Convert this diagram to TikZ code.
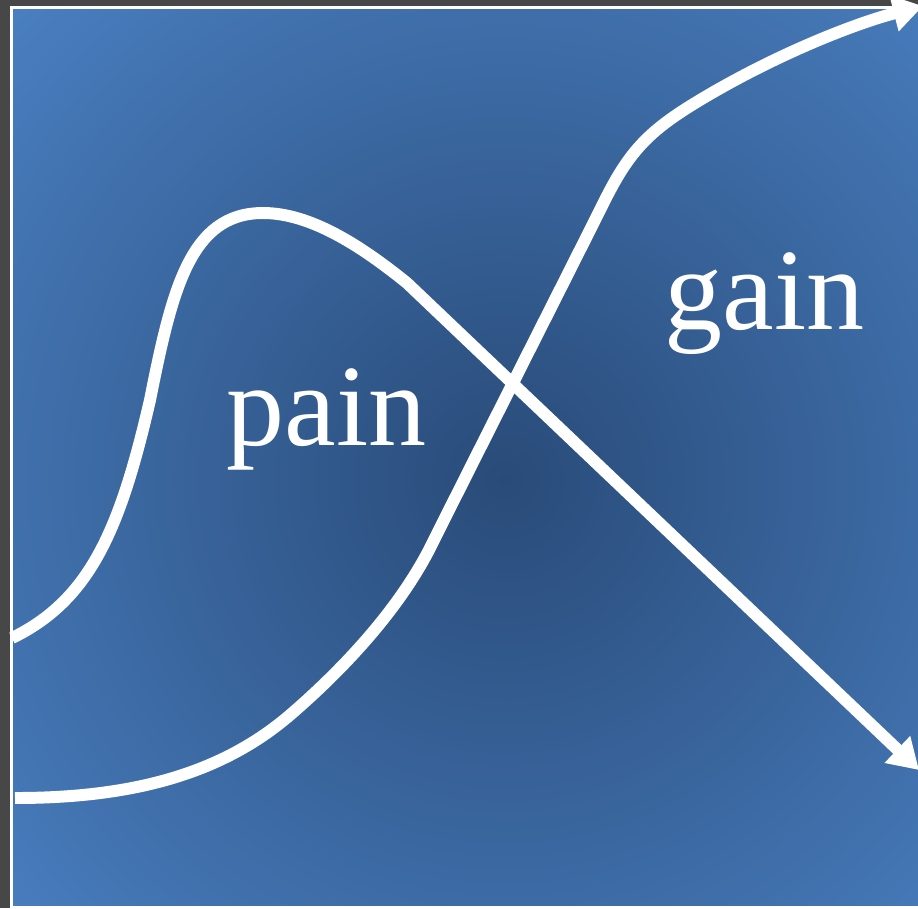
\documentclass[tikz,border=0pt]{standalone}
\usepackage{fontspec}
\setmainfont{Liberation Serif}
\usetikzlibrary{arrows.meta}
\definecolor{FrameGray}{HTML}{474747}
\definecolor{PanelDark}{HTML}{294B79}
\definecolor{PanelLight}{HTML}{4A80C2}

\tikzset{
  curve/.style={white, line width=3.4pt, -{Triangle[length=8.5pt,width=10pt]}},
  word/.style={text=white, inner sep=0pt, anchor=base west,
    font=\fontsize{33}{40}\selectfont}
}

\begin{document}
\begin{tikzpicture}[x=0.01cm,y=-0.01cm]
  \useasboundingbox (0,0) rectangle (918,908);
  % frame and shaded panel
  \fill[FrameGray] (0,0) rectangle (918,908);
  \fill[white] (10,6) rectangle (930,908);
  \begin{scope}
    \clip (13,9) rectangle (930,905);
    \shade[inner color=PanelDark, outer color=PanelLight] (505,480) circle [radius=7cm];
  \end{scope}
  % end points of the two curves
  \coordinate (painstart) at (12,638);
  \coordinate (painpeak) at (263,213);
  \coordinate (painknee) at (407,283);
  \coordinate (painend) at (919,770);
  \coordinate (gainstart) at (15,798);
  \coordinate (gainend) at (923,6);
  % pain: rise, peak, then straight down
  \draw[curve] (painstart) .. controls (90,600) and (120,530) .. (150,400)
    .. controls (172,290) and (190,213) .. (painpeak)
    .. controls (310,213) and (360,245) .. (painknee)
    -- (painend);
  % gain: flat, then up to the top right
  \draw[curve] (gainstart) .. controls (130,798) and (220,775) .. (290,715)
    .. controls (340,672) and (400,610) .. (433,542)
    .. controls (490,428) and (560,290) .. (605,200)
    .. controls (630,150) and (650,130) .. (700,100)
    .. controls (780,52) and (860,22) .. (gainend);
  % labels
  \node[word] (pain) at (226,445) {pain};
  \node[word] (gain) at (664,329) {gain};
\end{tikzpicture}
\end{document}
